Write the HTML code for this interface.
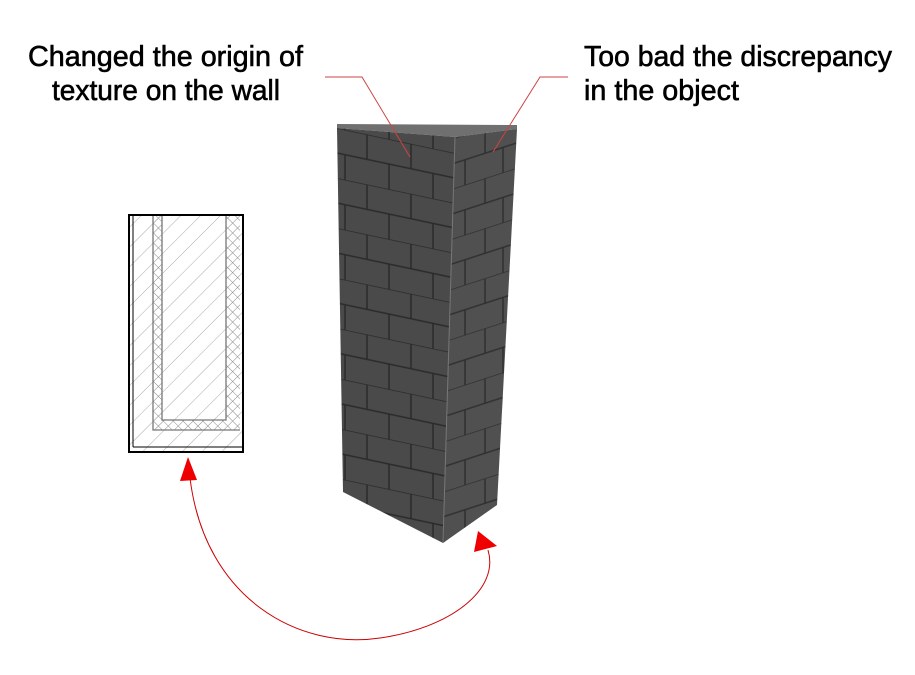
<!DOCTYPE html>
<html><head><style>body{margin:0;background:#fff}svg{display:block}</style></head><body>
<svg width="915" height="675" viewBox="0 0 915 675" xmlns="http://www.w3.org/2000/svg">
<defs>
<pattern id="hatch" width="14" height="14" patternUnits="userSpaceOnUse" patternTransform="rotate(45)">
<line x1="0" y1="0" x2="0" y2="14" stroke="#aaa" stroke-width="1"/></pattern>
<pattern id="cross" width="7" height="7" patternUnits="userSpaceOnUse" patternTransform="rotate(45)">
<line x1="0" y1="0" x2="0" y2="7" stroke="#888" stroke-width="1"/><line x1="0" y1="0" x2="7" y2="0" stroke="#888" stroke-width="1"/></pattern>
<pattern id="brickF" width="88" height="50" patternUnits="userSpaceOnUse" patternTransform="translate(337,128) skewY(12)">
<rect width="88" height="50" fill="#4a4a4a"/>
<path d="M0 0H88M0 25H88M30 0V25M74 0V25M8 25V50M52 25V50" stroke="#2a2a2a" stroke-width="1.5" fill="none"/></pattern>
<pattern id="brickR" width="60" height="50" patternUnits="userSpaceOnUse" patternTransform="translate(455,138) skewY(-18)">
<rect width="60" height="50" fill="#505050"/>
<path d="M0 0H60M0 25H60M30 0V25M10 25V50M48 25V50" stroke="#2f2f2f" stroke-width="1.5" fill="none"/></pattern>
</defs>
<g font-family="Liberation Sans, sans-serif" font-size="29" fill="#000" stroke="#000" stroke-width="0.6">
<text x="28" y="66" textLength="275" lengthAdjust="spacingAndGlyphs">Changed the origin of</text>
<text x="52" y="100" textLength="228" lengthAdjust="spacingAndGlyphs">texture on the wall</text>
<text x="584" y="66" textLength="308" lengthAdjust="spacingAndGlyphs">Too bad the discrepancy</text>
<text x="584" y="100" textLength="155" lengthAdjust="spacingAndGlyphs">in the object</text>
</g>
<!-- column -->
<polygon points="337,124 517,125 517,129 455,137 337,128" fill="#707070"/>
<polygon points="337,128 455,137 443,543 343,492" fill="url(#brickF)"/>
<polygon points="455,137 517,129 497,505 443,543" fill="url(#brickR)"/>
<line x1="455" y1="137" x2="443" y2="543" stroke="#777" stroke-width="1"/>
<!-- leaders -->
<polyline points="325,77 362,77 410,157" fill="none" stroke="#c44" stroke-width="1"/>
<polyline points="568,77 540,77 493,152" fill="none" stroke="#c44" stroke-width="1"/>
<!-- section -->
<rect x="129" y="215" width="114" height="237" fill="url(#hatch)"/>
<path d="M153 215V430H240V215H226V420H162V215Z" fill="#fff"/>
<path d="M153 215V430H240V215H226V420H162V215Z" fill="url(#cross)"/>
<path d="M153 215V430H240M162 215V420H226V215" fill="none" stroke="#777" stroke-width="1.3"/>
<rect x="129" y="215" width="114" height="237" fill="none" stroke="#000" stroke-width="2"/>
<line x1="133" y1="215" x2="133" y2="447" stroke="#000"/>
<line x1="133" y1="447" x2="243" y2="447" stroke="#000"/>
<!-- arrow -->
<path d="M190 478 C 205 600, 300 650, 380 638 C 450 628, 500 590, 488 550" fill="none" stroke="#c00" stroke-width="1"/>
<polygon points="188,457 180,481 197,480" fill="#e00"/>
<polygon points="478,531 474,552 497,546" fill="#e00"/>
</svg>
</body></html>
